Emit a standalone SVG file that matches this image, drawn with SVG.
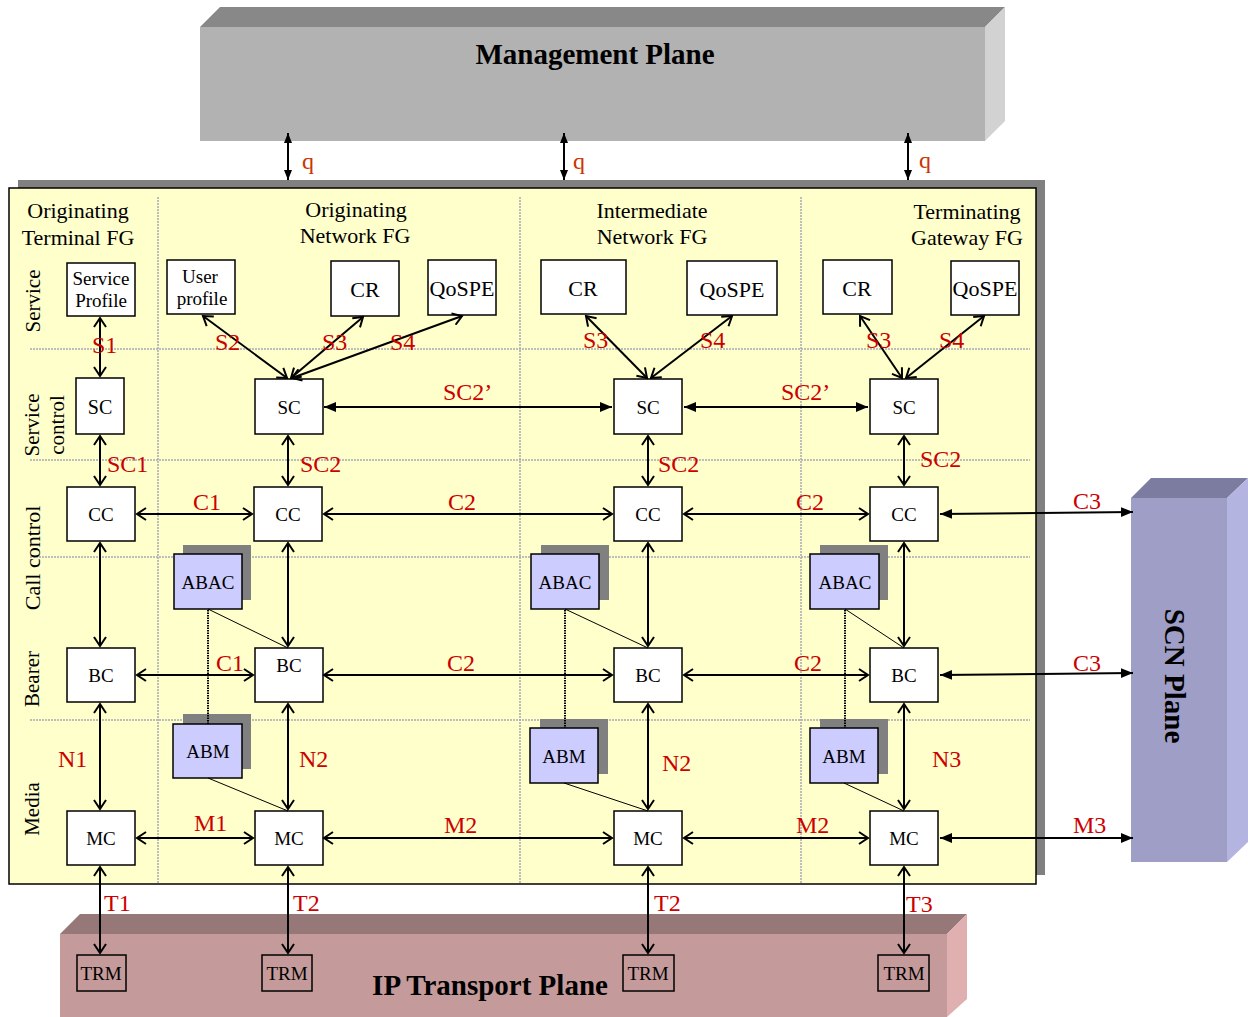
<svg xmlns="http://www.w3.org/2000/svg" width="1248" height="1017" viewBox="0 0 1248 1017">
<defs>
<marker id="oa" markerUnits="userSpaceOnUse" markerWidth="12" markerHeight="14" viewBox="0 0 12 14" refX="10" refY="7" orient="auto-start-reverse"><path d="M1,1 L10,7 L1,13" fill="none" stroke="#000" stroke-width="2"/></marker>
<marker id="fa" markerUnits="userSpaceOnUse" markerWidth="12" markerHeight="12" viewBox="0 0 12 12" refX="12" refY="6" orient="auto-start-reverse"><path d="M0,1 L12,6 L0,11 Z" fill="#000"/></marker>
<marker id="fq" markerUnits="userSpaceOnUse" markerWidth="10" markerHeight="10" viewBox="0 0 10 10" refX="10" refY="5" orient="auto-start-reverse"><path d="M0,1 L10,5 L0,9 Z" fill="#000"/></marker>
</defs>
<style>
.t{font-family:"Liberation Serif","Times New Roman",serif;fill:#000}
.hd{font-size:22px;text-anchor:middle}
.rl{font-size:21px;text-anchor:middle}
.nd{font-size:19px;text-anchor:middle}
.big{font-size:22px;text-anchor:middle}
.lb{font-family:"Liberation Serif","Times New Roman",serif;font-size:24px;fill:#cc0000}
.q{font-family:"Liberation Serif","Times New Roman",serif;font-size:24px;fill:#cc3300}
.pl{font-family:"Liberation Serif","Times New Roman",serif;font-size:29px;font-weight:bold;text-anchor:middle;fill:#000}
.box{fill:#fff;stroke:#000;stroke-width:1.5}
.ab{fill:#ccccff;stroke:#000;stroke-width:1.5}
.sh{fill:#808080}
.trm{fill:none;stroke:#000;stroke-width:1.5}
.grid{stroke:#a8a8b4;stroke-width:1.5;stroke-dasharray:2,1;fill:none}
.ar{stroke:#000;stroke-width:2;fill:none;marker-start:url(#oa);marker-end:url(#oa)}
.af{stroke:#000;stroke-width:2;fill:none;marker-start:url(#fa);marker-end:url(#fa)}
.aq{stroke:#000;stroke-width:2;fill:none;marker-start:url(#fq);marker-end:url(#fq)}
.thin{stroke:#000;stroke-width:1;fill:none}
.dot{stroke:#000;stroke-width:2;stroke-dasharray:1.5,1;fill:none}
</style>

<!-- Management plane -->
<g id="management-plane">
<polygon points="200,27 220,7 1005,7 985,27" fill="#888888"/>
<polygon points="985,27 1005,7 1005,121 985,141" fill="#d2d2d2"/>
<rect x="200" y="27" width="785" height="114" fill="#b2b2b2"/>
<text class="pl" x="595" y="64">Management Plane</text>
</g>

<!-- SCN plane -->
<g id="scn-plane">
<polygon points="1131,498 1151,478 1248,478 1227,498" fill="#7c7ca0"/>
<polygon points="1227,498 1248,478 1248,842 1227,862" fill="#b4b4e0"/>
<rect x="1131" y="498" width="96" height="364" fill="#9e9ec6"/>
<text class="pl" transform="translate(1175,676) rotate(90)" x="0" y="10">SCN Plane</text>
</g>

<!-- IP transport plane -->
<g id="ip-transport-plane">
<polygon points="60,934 80,914 967,914 947,934" fill="#967878"/>
<polygon points="947,934 967,914 967,999 947,1017" fill="#e0b0b0"/>
<rect x="60" y="934" width="887" height="83" fill="#c49a9a"/>
<text class="pl" x="490" y="995">IP Transport Plane</text>
</g>

<!-- main panel -->
<g id="panel">
<rect x="18" y="180" width="1027" height="695" fill="#808080"/>
<rect x="9" y="188" width="1027" height="696" fill="#ffffcc" stroke="#000" stroke-width="1.5"/>
<path class="grid" d="M158,197 V884 M520,197 V884 M801,197 V884 M30,349 H1030 M30,460 H1030 M30,557 H1030 M30,720 H1030"/>
<text class="t hd" x="78" y="218">Originating</text>
<text class="t hd" x="78" y="245">Terminal FG</text>
<text class="t hd" x="356" y="217">Originating</text>
<text class="t hd" x="355" y="243">Network FG</text>
<text class="t hd" x="652" y="218">Intermediate</text>
<text class="t hd" x="652" y="244">Network FG</text>
<text class="t hd" x="967" y="219">Terminating</text>
<text class="t hd" x="967" y="245">Gateway FG</text>
<text class="t rl" transform="translate(32,301) rotate(-90)" x="0" y="8">Service</text>
<text class="t rl" transform="translate(31,425) rotate(-90)" x="0" y="8">Service</text>
<text class="t rl" transform="translate(56,425) rotate(-90)" x="0" y="8">control</text>
<text class="t hd" transform="translate(32,558) rotate(-90)" x="0" y="8">Call control</text>
<text class="t rl" transform="translate(31,679) rotate(-90)" x="0" y="8">Bearer</text>
<text class="t rl" transform="translate(31,809) rotate(-90)" x="0" y="8">Media</text>
</g>

<!-- nodes: service row -->
<g id="service-profile"><rect class="box" x="67" y="263" width="68" height="53"/><text class="t nd" x="101" y="285">Service</text><text class="t nd" x="101" y="307">Profile</text></g>
<g id="user-profile"><rect class="box" x="167" y="260" width="68" height="54"/><text class="t nd" x="200" y="283">User</text><text class="t nd" x="202" y="305">profile</text></g>
<g id="cr-orig"><rect class="box" x="331" y="261" width="68" height="55"/><text class="t big" x="365" y="297">CR</text></g>
<g id="qospe-orig"><rect class="box" x="428" y="260" width="68" height="55"/><text class="t big" x="462" y="296">QoSPE</text></g>
<g id="cr-inter"><rect class="box" x="541" y="260" width="85" height="54"/><text class="t big" x="583" y="296">CR</text></g>
<g id="qospe-inter"><rect class="box" x="687" y="261" width="90" height="54"/><text class="t big" x="732" y="297">QoSPE</text></g>
<g id="cr-term"><rect class="box" x="823" y="260" width="69" height="54"/><text class="t big" x="857" y="296">CR</text></g>
<g id="qospe-term"><rect class="box" x="951" y="261" width="68" height="54"/><text class="t big" x="985" y="296">QoSPE</text></g>

<!-- SC row -->
<g id="sc-1"><rect class="box" x="76" y="378" width="48" height="56"/><text class="t" x="100" y="414" font-size="20" text-anchor="middle">SC</text></g>
<g id="sc-2"><rect class="box" x="255" y="379" width="68" height="55"/><text class="t nd" x="289" y="414">SC</text></g>
<g id="sc-3"><rect class="box" x="614" y="379" width="68" height="55"/><text class="t nd" x="648" y="414">SC</text></g>
<g id="sc-4"><rect class="box" x="870" y="379" width="68" height="55"/><text class="t nd" x="904" y="414">SC</text></g>

<!-- CC row -->
<g id="cc-1"><rect class="box" x="67" y="487" width="68" height="54"/><text class="t nd" x="101" y="521">CC</text></g>
<g id="cc-2"><rect class="box" x="254" y="487" width="68" height="54"/><text class="t nd" x="288" y="521">CC</text></g>
<g id="cc-3"><rect class="box" x="614" y="487" width="68" height="54"/><text class="t nd" x="648" y="521">CC</text></g>
<g id="cc-4"><rect class="box" x="870" y="487" width="68" height="54"/><text class="t nd" x="904" y="521">CC</text></g>

<!-- BC row -->
<g id="bc-1"><rect class="box" x="67" y="648" width="68" height="54"/><text class="t nd" x="101" y="682">BC</text></g>
<g id="bc-2"><rect class="box" x="255" y="648" width="68" height="54"/><text class="t nd" x="289" y="672">BC</text></g>
<g id="bc-3"><rect class="box" x="614" y="648" width="68" height="54"/><text class="t nd" x="648" y="682">BC</text></g>
<g id="bc-4"><rect class="box" x="870" y="648" width="68" height="54"/><text class="t nd" x="904" y="682">BC</text></g>

<!-- MC row -->
<g id="mc-1"><rect class="box" x="67" y="811" width="68" height="54"/><text class="t nd" x="101" y="845">MC</text></g>
<g id="mc-2"><rect class="box" x="255" y="811" width="68" height="54"/><text class="t nd" x="289" y="845">MC</text></g>
<g id="mc-3"><rect class="box" x="614" y="811" width="68" height="54"/><text class="t nd" x="648" y="845">MC</text></g>
<g id="mc-4"><rect class="box" x="870" y="811" width="68" height="54"/><text class="t nd" x="904" y="845">MC</text></g>

<!-- ABAC / ABM -->
<g id="abac-2"><rect class="sh" x="183" y="545" width="68" height="55"/><rect class="ab" x="174" y="554" width="68" height="55"/><text class="t nd" x="208" y="589">ABAC</text></g>
<g id="abac-3"><rect class="sh" x="541" y="545" width="68" height="55"/><rect class="ab" x="531" y="554" width="68" height="55"/><text class="t nd" x="565" y="589">ABAC</text></g>
<g id="abac-4"><rect class="sh" x="820" y="545" width="68" height="55"/><rect class="ab" x="810" y="554" width="69" height="55"/><text class="t nd" x="845" y="589">ABAC</text></g>
<g id="abm-2"><rect class="sh" x="183" y="714" width="68" height="55"/><rect class="ab" x="173" y="724" width="69" height="54"/><text class="t nd" x="208" y="758">ABM</text></g>
<g id="abm-3"><rect class="sh" x="540" y="719" width="68" height="55"/><rect class="ab" x="530" y="728" width="68" height="55"/><text class="t nd" x="564" y="763">ABM</text></g>
<g id="abm-4"><rect class="sh" x="820" y="719" width="68" height="55"/><rect class="ab" x="810" y="728" width="68" height="55"/><text class="t nd" x="844" y="763">ABM</text></g>

<!-- TRM -->
<g id="trm-1"><rect class="trm" x="77" y="955" width="49" height="36"/><text class="t nd" x="101" y="980">TRM</text></g>
<g id="trm-2"><rect class="trm" x="262" y="955" width="50" height="36"/><text class="t nd" x="287" y="980">TRM</text></g>
<g id="trm-3"><rect class="trm" x="623" y="955" width="51" height="36"/><text class="t nd" x="648" y="980">TRM</text></g>
<g id="trm-4"><rect class="trm" x="878" y="955" width="51" height="36"/><text class="t nd" x="904" y="980">TRM</text></g>

<!-- connectors -->
<g id="connectors">
<path class="aq" d="M288,133 V180"/>
<path class="aq" d="M564,133 V180"/>
<path class="aq" d="M908,133 V180"/>
<path class="ar" d="M100,318 V376"/>
<path class="ar" d="M100,436 V485"/>
<path class="ar" d="M100,543 V646"/>
<path class="ar" d="M100,704 V809"/>
<path class="ar" d="M100,867 V953"/>
<path class="ar" d="M137,514 H252"/>
<path class="ar" d="M137,675 H253"/>
<path class="ar" d="M137,838 H253"/>
<path class="ar" d="M203,316 L287,378"/>
<path class="ar" d="M363,317 L291,378"/>
<path class="ar" d="M462,316 L292,378"/>
<path class="ar" d="M288,436 V485"/>
<path class="ar" d="M288,543 V646"/>
<path class="ar" d="M288,704 V809"/>
<path class="ar" d="M288,867 V953"/>
<path class="af" d="M324,407 H612"/>
<path class="ar" d="M324,514 H612"/>
<path class="ar" d="M324,675 H612"/>
<path class="ar" d="M324,838 H612"/>
<path class="ar" d="M586,316 L647,378"/>
<path class="ar" d="M732,316 L651,378"/>
<path class="ar" d="M648,436 V485"/>
<path class="ar" d="M648,543 V646"/>
<path class="ar" d="M648,704 V809"/>
<path class="ar" d="M648,867 V953"/>
<path class="af" d="M684,407 H868"/>
<path class="ar" d="M684,514 H868"/>
<path class="ar" d="M684,675 H868"/>
<path class="ar" d="M684,838 H868"/>
<path class="ar" d="M860,316 L902,378"/>
<path class="ar" d="M984,316 L906,378"/>
<path class="ar" d="M904,436 V485"/>
<path class="ar" d="M904,543 V646"/>
<path class="ar" d="M904,704 V809"/>
<path class="ar" d="M904,867 V953"/>
<path class="af" d="M940,514 L1133,512"/>
<path class="af" d="M940,675 L1133,673"/>
<path class="af" d="M940,838 H1133"/>
<path class="dot" d="M208,610 V724 M565,610 V728 M845,610 V728"/>
<path class="thin" d="M208,609 L288,648 M208,778 L288,811 M565,609 L648,648 M564,783 L648,811 M845,609 L904,648 M844,783 L904,811"/>
</g>

<!-- labels -->
<g id="labels">
<text class="q" x="302" y="169">q</text>
<text class="q" x="573" y="169">q</text>
<text class="q" x="919" y="168">q</text>
<text class="lb" x="92" y="353">S1</text>
<text class="lb" x="215" y="350">S2</text>
<text class="lb" x="322" y="350">S3</text>
<text class="lb" x="390" y="350">S4</text>
<text class="lb" x="583" y="348">S3</text>
<text class="lb" x="700" y="348">S4</text>
<text class="lb" x="866" y="348">S3</text>
<text class="lb" x="939" y="348">S4</text>
<text class="lb" x="443" y="400">SC2’</text>
<text class="lb" x="781" y="400">SC2’</text>
<text class="lb" x="107" y="472">SC1</text>
<text class="lb" x="300" y="472">SC2</text>
<text class="lb" x="658" y="472">SC2</text>
<text class="lb" x="920" y="467">SC2</text>
<text class="lb" x="193" y="510">C1</text>
<text class="lb" x="448" y="510">C2</text>
<text class="lb" x="796" y="510">C2</text>
<text class="lb" x="1073" y="509">C3</text>
<text class="lb" x="216" y="671">C1</text>
<text class="lb" x="447" y="671">C2</text>
<text class="lb" x="794" y="671">C2</text>
<text class="lb" x="1073" y="671">C3</text>
<text class="lb" x="58" y="767">N1</text>
<text class="lb" x="299" y="767">N2</text>
<text class="lb" x="662" y="771">N2</text>
<text class="lb" x="932" y="767">N3</text>
<text class="lb" x="194" y="831">M1</text>
<text class="lb" x="444" y="833">M2</text>
<text class="lb" x="796" y="833">M2</text>
<text class="lb" x="1073" y="833">M3</text>
<text class="lb" x="104" y="911">T1</text>
<text class="lb" x="293" y="911">T2</text>
<text class="lb" x="654" y="911">T2</text>
<text class="lb" x="906" y="912">T3</text>
</g>
</svg>
